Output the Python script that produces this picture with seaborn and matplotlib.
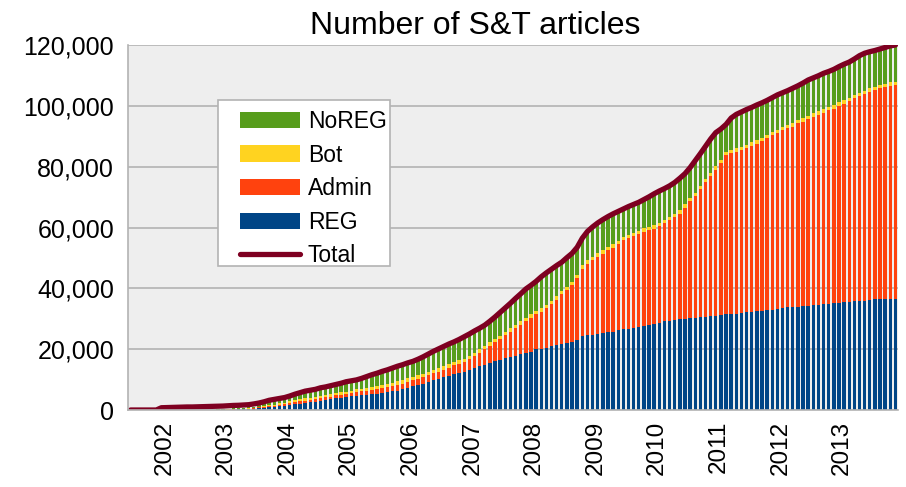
import numpy as np
import pandas as pd
import matplotlib
matplotlib.use("Agg")
import matplotlib.pyplot as plt
from matplotlib.patches import Patch, Rectangle
from matplotlib.lines import Line2D
from matplotlib.ticker import FuncFormatter
import matplotlib.transforms as mtransforms
import seaborn as sns

# ---- data (monthly, Jul 2001 .. Dec 2013) ----
months = pd.date_range("2001-07-01", "2013-12-01", freq="MS")

total = [0, 0, 0, 0, 0, 0, 750, 800, 850, 900, 950, 1000, 1000, 1050, 1100, 1150, 1200, 1250,
         1300, 1400, 1500, 1550, 1650, 1750, 2000, 2300, 2700, 3200, 3500, 3800, 4100, 4600,
         5200, 5700, 6200, 6500, 6800, 7300, 7600, 8000, 8400, 8800, 9300, 9600, 9900, 10400,
         11000, 11600, 12100, 12700, 13200, 13800, 14400, 14900, 15500, 16000, 16700, 17500,
         18400, 19300, 20100, 20900, 21700, 22400, 23200, 24100, 25000, 26000, 26900, 27900,
         29200, 30600, 32100, 33600, 35100, 36700, 38200, 39800, 41000, 42300, 43800, 45100,
         46300, 47500, 48600, 50100, 51500, 53500, 56500, 58700, 60200, 61500, 62600, 63600,
         64500, 65300, 66100, 66900, 67600, 68300, 69200, 70100, 71100, 72000, 72800, 73700,
         74800, 76200, 77700, 79700, 82000, 84300, 86700, 89100, 91200, 92400, 93900, 96000,
         97200, 98000, 98800, 99500, 100300, 101000, 101800, 102700, 103600, 104300, 105000,
         105800, 106600, 107500, 108500, 109200, 109900, 110700, 111300, 112000, 112900,
         113700, 114400, 115400, 116500, 117300, 117800, 118200, 118700, 119200, 119700, 120000]

reg = [0] * 17 + [50, 80, 100, 150, 200, 250, 300, 400, 600, 800, 1000, 900, 1200, 1300, 1500,
       1900, 2100, 2300, 2500, 2700, 3000, 3300, 3500, 3900, 4000, 4200, 4500, 4700, 4900,
       4800, 5100, 5300, 5600, 5900, 6100, 6400, 6800, 7300, 7800, 8200, 8700, 9200, 9800,
       10200, 10800, 11300, 11900, 12300, 12600, 13200, 13800, 14400, 14800, 15400, 16000,
       16400, 17000, 17300, 17800, 18300, 18700, 19200, 19900, 20200, 20500, 20900, 21300,
       21600, 21900, 22200, 23000, 24200, 24500, 24800, 25100, 25300, 25600, 25800, 26200,
       26500, 26700, 27000, 27300, 27700, 28000, 28300, 28700, 29100, 29400, 29700, 29800,
       30000, 30200, 30400, 30600, 30700, 30800, 31000, 31100, 31500, 31700, 31700, 31900,
       32100, 32300, 32500, 32700, 32800, 33000, 33300, 33600, 33700, 33700, 34000, 34100,
       34300, 34400, 34600, 34800, 35000, 35100, 35300, 35400, 35500, 35700, 35900, 36000,
       36300, 36400, 36600, 36600, 36600, 36600]

admin = [0] * 17 + [20, 30, 50, 60, 80, 100, 120, 150, 250, 350, 400, 500, 550, 650, 750,
         800, 800, 800, 800, 800, 800, 850, 850, 900, 900, 950, 1000, 1100, 1200, 1300, 1400,
         1500, 1600, 1700, 1800, 1900, 1900, 2000, 2000, 2100, 2100, 2200, 2300, 2400, 2500,
         2600, 2800, 2900, 3200, 3500, 3900, 4500, 5200, 5700, 6300, 6900, 7600, 8400, 9000,
         9700, 10500, 11200, 11700, 12100, 13000, 14000, 15000, 16400, 17500, 18800, 20300,
         22300, 23600, 24500, 25300, 26100, 26900, 27600, 28300, 29300, 29700, 30100, 30500,
         30900, 31100, 31300, 31700, 32300, 33000, 33800, 34800, 36500, 38500, 40000, 42000,
         44200, 46000, 48000, 50000, 52200, 52800, 53200, 53500, 54000, 54600, 55100, 55700,
         56500, 57400, 57700, 58300, 58900, 59500, 60200, 60700, 61300, 62000, 62500, 63000,
         63500, 64000, 64800, 65300, 66000, 66800, 67300, 67800, 68300, 68800, 69200, 69600,
         70000, 70200]

bot = [0] * 17 + [20, 30, 40, 50, 60, 80, 100, 150, 250, 300, 350, 400, 450, 500, 550, 600,
       650, 700, 750, 800, 800, 850, 850, 900, 900, 900, 900, 950, 950, 1000, 1000, 1050,
       1100, 1100] + [1100] * 99

noreg = [0] * 17 + [100, 150, 200, 250, 300, 350, 400, 300, 500, 800, 1000, 1200, 1300, 1500,
         1700, 1900, 2100, 2400, 2400, 2500, 2700, 2600, 2800, 2700, 3000, 3200, 3200, 3100,
         3300, 3900, 4100, 4200, 4400, 4500, 4800, 5000, 5100, 5100, 5100, 5300, 5600, 5900,
         6100, 6400, 6500, 6700, 6600, 6900, 7200, 7200, 7200, 6900, 6800, 7000, 7200, 7700,
         7900, 8300, 8800, 9100, 9500, 9500, 9600, 10400, 10500, 10300, 10100, 9500, 9600,
         9400, 9100, 8900, 9500, 9800, 10000, 10100, 10000, 10000, 9700, 9200, 9400, 9400,
         9400, 9500, 9900, 10400, 10500, 10300, 10200, 10200, 10500, 10100, 9900, 10500,
         10600, 10700, 11200, 11100, 10200, 9100, 10400, 11200, 11500, 11600, 11500, 11600,
         11500, 11400, 11200, 11500, 11300, 11300, 11500, 11300, 11600, 11800, 11700, 11700,
         11800, 11700, 11800, 11700, 11900, 11800, 11800, 12200, 12400, 12100, 11900, 11800,
         11900, 12000, 12100]

series_names = ["NoREG", "Bot", "Admin", "REG", "Total"]
colors = {"NoREG": "#579d1c", "Bot": "#ffd320", "Admin": "#ff420e",
          "REG": "#004586", "Total": "#7e0021"}

df = pd.DataFrame({"month": months, "REG": reg, "Admin": admin, "Bot": bot,
                   "NoREG": noreg, "Total": total})
df["pos"] = np.arange(len(df))
# cumulative stack heights (drawn tallest first so lower layers cover them)
df["c_noreg"] = df["REG"] + df["Admin"] + df["Bot"] + df["NoREG"]
df["c_bot"] = df["REG"] + df["Admin"] + df["Bot"]
df["c_admin"] = df["REG"] + df["Admin"]
df["c_reg"] = df["REG"]

# ---- figure ----
sns.set_theme(style="white")
plt.rcParams["font.family"] = ["Liberation Sans", "DejaVu Sans"]
plt.rcParams["text.color"] = "black"

fig, ax = plt.subplots(figsize=(9.06, 4.87), dpi=100)
fig.subplots_adjust(left=0.1413, right=0.9912, top=0.9076, bottom=0.1581)
fig.patch.set_facecolor("white")
ax.set_facecolor("#eeeeee")

bw = 0.66
for col, name in [("c_noreg", "NoREG"), ("c_bot", "Bot"), ("c_admin", "Admin"), ("c_reg", "REG")]:
    sns.barplot(data=df, x="pos", y=col, color=colors[name], width=bw,
                saturation=1, native_scale=True, ax=ax, linewidth=0, zorder=2)

sns.lineplot(data=df, x="pos", y="Total", color=colors["Total"], linewidth=3.8,
             ax=ax, zorder=4, solid_joinstyle="round", solid_capstyle="round")

# axes
ax.set_xlim(-0.5, len(df) - 0.5)
ax.set_ylim(0, 120000)
ax.set_yticks(np.arange(0, 120001, 20000))
ax.yaxis.set_major_formatter(FuncFormatter(lambda v, p: f"{int(v):,}"))
ax.yaxis.grid(True, color="#b3b3b3", linewidth=1.2, zorder=0)
ax.set_axisbelow(True)

jan_pos = df.loc[df["month"].dt.month == 1, "pos"].to_numpy()
jan_lab = df.loc[df["month"].dt.month == 1, "month"].dt.year.astype(str).tolist()
ax.set_xticks(jan_pos)
ax.set_xticklabels(jan_lab, rotation=90)
ax.set_xticks(np.arange(-0.5, len(df), 1.0), minor=True)
ax.tick_params(axis="x", which="major", length=0, pad=8, labelsize=17.5, labelcolor="black")
ax.tick_params(axis="x", which="minor", length=6, width=1, color="#b3b3b3", direction="out")
ax.tick_params(axis="y", which="major", length=6, width=1, color="#b3b3b3", direction="out",
               labelsize=18, pad=4, labelcolor="black")
shift = mtransforms.ScaledTranslation(3 / 100, 0, fig.dpi_scale_trans)
for lab in ax.get_xticklabels():
    lab.set_transform(lab.get_transform() + shift)
ax.set_xlabel("")
ax.set_ylabel("")

for s in ["top", "right"]:
    ax.spines[s].set_visible(False)
for s in ["left", "bottom"]:
    ax.spines[s].set_color("#b3b3b3")
    ax.spines[s].set_linewidth(1.2)
    ax.spines[s].set_zorder(5)

fig.text(475.5 / 906, 1 - 33.5 / 487, "Number of S&T articles", fontsize=23,
         color="black", ha="center", va="baseline")

# legend: manual frame + frameless legend
x0 = (218 - 128) / 770
x1 = (390 - 128) / 770
y1 = (410 - 100) / 365
y0 = (410 - 266) / 365
frame = Rectangle((x0, y0), x1 - x0, y1 - y0, transform=ax.transAxes, facecolor="white",
                  edgecolor="#b3b3b3", linewidth=1.2, zorder=6)
ax.add_patch(frame)

handles = [Patch(facecolor=colors[n], edgecolor="none") for n in series_names[:4]]
handles.append(Line2D([0], [0], color=colors["Total"], linewidth=3.8))
leg = ax.legend(handles, series_names, loc="upper left",
                bbox_to_anchor=((240 - 128) / 770, (410 - 110) / 365),
                fontsize=16.5, frameon=False, handlelength=2.6, handleheight=0.7,
                labelspacing=0.46, borderpad=0, handletextpad=0.36, borderaxespad=0)
leg.set_zorder(7)

fig.savefig("out.png", dpi=100, facecolor="white")
